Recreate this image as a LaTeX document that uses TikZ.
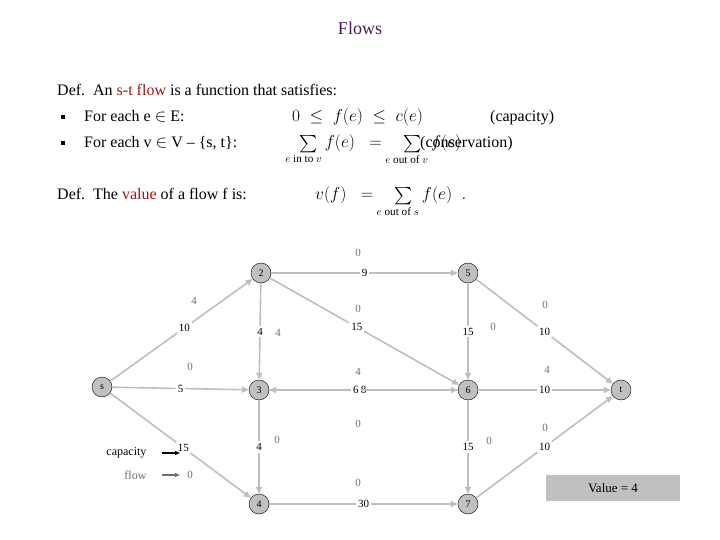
\documentclass[tikz,border=0pt]{standalone}
\usepackage{amsmath}
\usepackage{fontspec}
\setmainfont{Liberation Serif}
\usetikzlibrary{arrows.meta}
\definecolor{edge}{RGB}{190,190,190}
\definecolor{nodefill}{RGB}{192,192,192}
\definecolor{flowc}{RGB}{110,110,110}
\definecolor{titlec}{RGB}{80,20,90}
\definecolor{redc}{RGB}{160,20,20}
\begin{document}
\begin{tikzpicture}[x=1pt,y=-1pt,
  vert/.style={circle,draw=black,fill=nodefill,minimum size=20pt,inner sep=0pt,font=\fontsize{10}{10}\selectfont},
  arc/.style={draw=edge,line width=1.6pt,-{Triangle[length=7pt,width=6pt]}},
  caplab/.style={fill=white,inner sep=2pt,font=\fontsize{11}{11}\selectfont},
  flw/.style={text=flowc,font=\fontsize{11}{11}\selectfont},
  bul/.style={fill=black,inner sep=0pt,minimum size=4pt},
  txt/.style={anchor=base west,inner sep=0pt,font=\fontsize{16}{18}\selectfont}]
\useasboundingbox (0,0) rectangle (720,540);
\node[text=titlec,font=\fontsize{18}{20}\selectfont] (title) at (360,28) {Flows};
\node[txt] (d1) at (57,96) {Def.\ \ An \textcolor{redc}{s-t flow} is a function that satisfies:};
\node[bul] (b1) at (63,117) {};
\node[txt] (l1) at (84,122) {For each e $\in$ E:};
\node[txt] (f1) at (292,122) {$0\;\le\; f(e)\;\le\; c(e)$};
\node[txt] (c1) at (490,122) {(capacity)};
\node[bul] (b2) at (63,143) {};
\node[txt] (l2) at (84,148) {For each v $\in$ V -- \{s, t\}:};
\node[txt] (f2) at (296,148) {$\sum\limits_{\!\!\!\!\!\!e\text{ in to }v} f(e)\;\; = \;\;\sum\limits_{\!\!\!\!\!\!e\text{ out of }v} f(e)$};
\node[txt] (c2) at (420,148) {(conservation)};
\node[txt] (d2) at (57,200) {Def.\ \ The \textcolor{redc}{value} of a flow f is:};
\node[txt] (f3) at (315,200) {$v(f)\;\; = \;\;\sum\limits_{\!\!\!\!\!\!e\text{ out of }s} f(e)\;\; .$};

\node[vert] (s) at (102,387) {s};
\node[vert] (n2) at (261,273) {2};
\node[vert] (n3) at (259,390) {3};
\node[vert] (n4) at (259,504) {4};
\node[vert] (n5) at (468,273) {5};
\node[vert] (n6) at (468,390) {6};
\node[vert] (n7) at (468,504) {7};
\node[vert] (t) at (621,390) {t};

\draw[arc] (s) -- node[caplab,pos=0.52]{10} (n2);
\draw[arc] (s) -- node[caplab]{5} (n3);
\draw[arc] (s) -- node[caplab,pos=0.52]{15} (n4);
\draw[arc] (n2) -- node[caplab]{9} (n5);
\draw[arc] (n2) -- node[caplab,pos=0.46]{15} (n6);
\draw[arc] (n3) -- node[caplab]{8} (n6);
\draw[arc] (n6) -- node[caplab,pos=0.54]{6} (n3);
\draw[arc] (n4) -- node[caplab]{30} (n7);
\draw[arc] (n2) -- node[caplab]{4} (n3);
\draw[arc] (n3) -- node[caplab]{4} (n4);
\draw[arc] (n5) -- node[caplab]{15} (n6);
\draw[arc] (n6) -- node[caplab]{15} (n7);
\draw[arc] (n5) -- node[caplab]{10} (t);
\draw[arc] (n6) -- node[caplab]{10} (t);
\draw[arc] (n7) -- node[caplab]{10} (t);

\node[flw] (f_s2) at (194,301) {4};
\node[flw] (f_s3) at (190,367) {0};
\node[flw] (f_s4) at (190,475) {0};
\node[flw] (f_25) at (358,253) {0};
\node[flw] (f_26) at (358,309) {0};
\node[flw] (f_36) at (358,372) {4};
\node[flw] (f_63) at (358,424) {0};
\node[flw] (f_47) at (358,483) {0};
\node[flw] (f_23) at (278,333) {4};
\node[flw] (f_34) at (277,440) {0};
\node[flw] (f_56) at (493,327) {0};
\node[flw] (f_67) at (489,441) {0};
\node[flw] (f_5t) at (545,305) {0};
\node[flw] (f_6t) at (547,370) {4};
\node[flw] (f_7t) at (545,428) {0};

\node[font=\fontsize{12}{12}\selectfont,anchor=east] (lc) at (150,453) {capacity};
\node[font=\fontsize{12}{12}\selectfont,anchor=east,text=flowc] (lf) at (150,475) {flow};
\coordinate (lc1) at (162,453);
\coordinate (lf1) at (162,475);
\coordinate (lc2) at (180,453);
\coordinate (lf2) at (180,475);
\draw[line width=1.2pt,-{Triangle[length=5pt,width=4pt]}] (lc1) -- (lc2);
\draw[line width=1.2pt,flowc,-{Triangle[length=5pt,width=4pt]}] (lf1) -- (lf2);

\node[fill=nodefill,minimum width=134pt,minimum height=26pt,inner sep=0pt,font=\fontsize{13}{13}\selectfont] (val) at (613,488) {Value = 4};
\end{tikzpicture}
\end{document}
